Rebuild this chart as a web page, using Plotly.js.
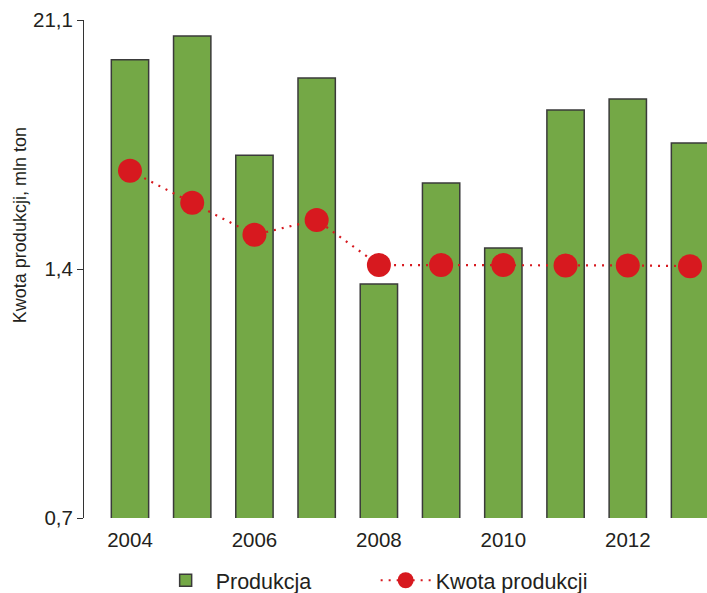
<!DOCTYPE html>
<html>
<head>
<meta charset="utf-8">
<script src="https://cdn.plot.ly/plotly-3.0.1.min.js"></script>
<style>
  html, body { margin: 0; padding: 0; background: #ffffff; }
  #chart { width: 707px; height: 593px; }
</style>
</head>
<body>
<div id="chart"></div>
<script>
// Sugar production vs. production quota, mln tonnes
const years = [2004, 2005, 2006, 2007, 2008, 2009, 2010, 2011, 2012, 2013];
const produkcja = [1.988, 2.055, 1.72, 1.937, 1.358, 1.642, 1.459, 1.847, 1.878, 1.754];
const kwotaProdukcji = [1.676, 1.586, 1.496, 1.538, 1.411, 1.411, 1.411, 1.41, 1.41, 1.408];

const yTickVals = [0.7, 1.4, 2.1];
const yTickText = ['0,7', '1,4', '21,1'];
const xTickVals = [2004, 2006, 2008, 2010, 2012];
const yAxisTitle = 'Kwota produkcji, mln ton';

const fontFamily = '"Liberation Sans", Arial, Helvetica, sans-serif';

const traces = [
  {
    type: 'bar',
    name: 'Produkcja',
    x: years,
    y: produkcja,
    marker: { color: '#74a846', line: { color: '#3a3a3a', width: 1.5 } },
    hoverinfo: 'x+y'
  },
  {
    type: 'scatter',
    mode: 'lines+markers',
    name: 'Kwota produkcji',
    x: years,
    y: kwotaProdukcji,
    line: { color: '#d7191f', width: 2.2, dash: '2px,6px' },
    marker: { color: '#d7191f', size: 24 }
  }
];

const layout = {
  width: 707,
  height: 593,
  margin: { l: 84, r: 0, t: 20, b: 75, autoexpand: false },
  paper_bgcolor: '#ffffff',
  plot_bgcolor: '#ffffff',
  font: { family: fontFamily, color: '#231f20', size: 20 },
  bargap: 0.4,
  showlegend: true,
  legend: {
    orientation: 'h',
    x: 0.115,
    xanchor: 'left',
    y: -0.125,
    yanchor: 'middle',
    font: { size: 21.5, color: '#231f20' },
    itemwidth: 50,
    entrywidth: 155,
    tracegroupgap: 0
  },
  xaxis: {
    range: [2003.261, 2013.273],
    tickvals: xTickVals,
    ticks: 'outside',
    ticklen: 3,
    tickcolor: 'rgba(0,0,0,0)',
    showgrid: false,
    zeroline: false,
    showline: false,
    tickfont: { size: 20.5 }
  },
  yaxis: {
    range: [0.7, 2.1],
    tickvals: yTickVals,
    ticktext: yTickText,
    ticks: 'outside',
    ticklen: 6,
    tickcolor: '#333333',
    showgrid: false,
    zeroline: false,
    showline: true,
    linecolor: '#333333',
    linewidth: 1,
    tickfont: { size: 20.5 }
  },
  // vertical axis caption, placed a little above the middle of the plot
  annotations: [
    {
      text: yAxisTitle,
      xref: 'paper',
      yref: 'paper',
      x: 0,
      xshift: -64,
      y: 0.588,
      xanchor: 'center',
      yanchor: 'middle',
      textangle: -90,
      showarrow: false,
      font: { size: 18, color: '#231f20' }
    }
  ]
};

Plotly.newPlot('chart', traces, layout, { displayModeBar: false, staticPlot: true });
</script>
</body>
</html>
